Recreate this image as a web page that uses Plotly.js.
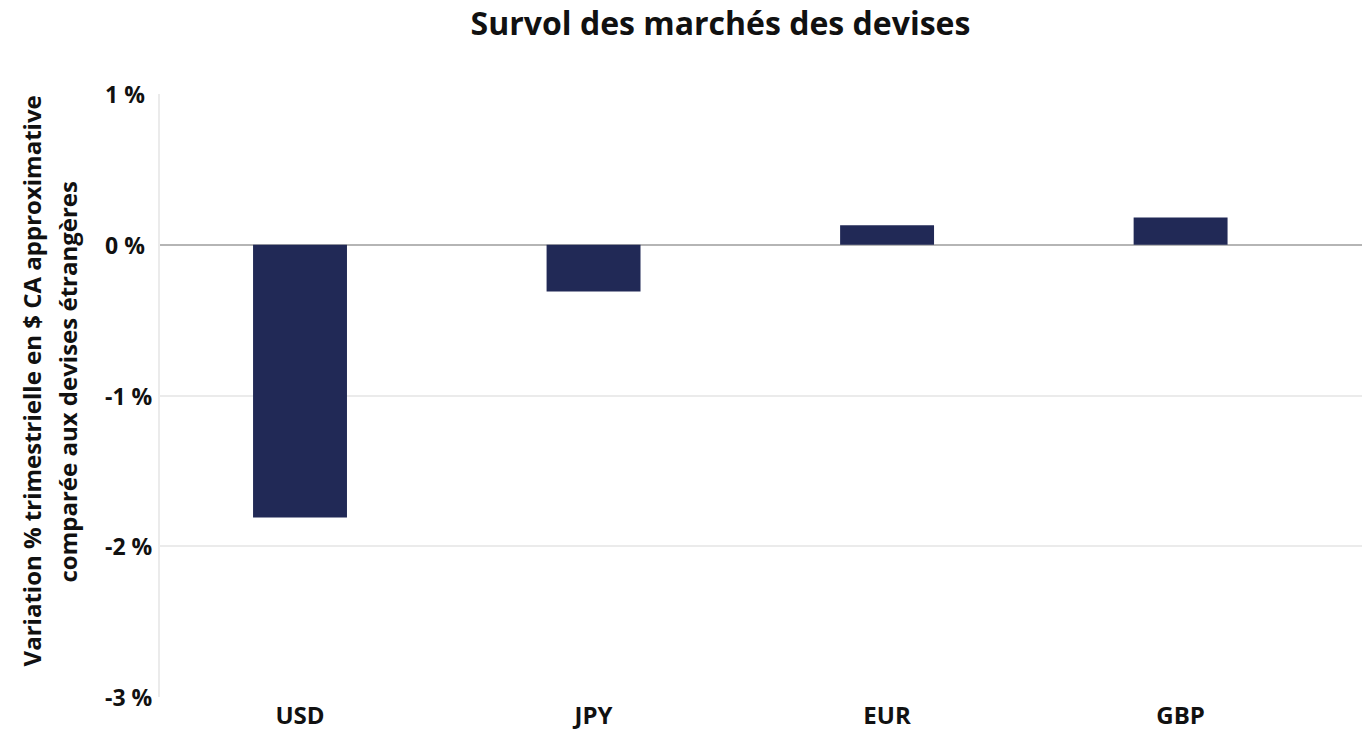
<!DOCTYPE html>
<html>
<head>
<meta charset="utf-8">
<script src="https://cdn.plot.ly/plotly-3.0.1.min.js"></script>
<style>html,body{margin:0;padding:0;background:#fff;}#chart{width:1362px;height:730px;}</style>
</head>
<body>
<div id="chart"></div>
<script>
const categories = ["USD", "JPY", "EUR", "GBP"];
const values = [-1.81, -0.31, 0.13, 0.18];
const yTickVals = [1, 0, -1, -2, -3];
const yTickText = ["1 %", "0 %", "-1 %", "-2 %", "-3 %"];
const chartTitle = "Survol des marchés des devises";
const yTitleLines = ["Variation % trimestrielle en $ CA approximative", "comparée aux devises étrangères"];

const FONT = "'Open Sans', sans-serif";
const INK = "#111";
const trace = {
  type: "bar",
  x: categories.map((c, i) => i),
  y: values,
  width: 0.32,
  marker: {color: "#212956"},
  hoverinfo: "skip"
};
const tickAnnotations = yTickVals.map((v, i) => ({
  text: yTickText[i], xref: "paper", yref: "y", x: -0.0474, y: v,
  xanchor: "left", yanchor: "middle", showarrow: false,
  font: {family: FONT, size: 23, weight: 700, color: INK}
}));
const layout = {
  width: 1362, height: 730,
  margin: {l: 160, r: 0, t: 94, b: 33},
  paper_bgcolor: "#fff", plot_bgcolor: "#fff",
  font: {family: FONT, color: INK},
  showlegend: false,
  title: {text: chartTitle, x: 0.529, xref: "container", xanchor: "center", y: 0.968, yref: "container", yanchor: "middle",
          font: {family: FONT, size: 32, weight: 700, color: INK}},
  xaxis: {
    range: [-0.477, 3.618],
    tickvals: categories.map((c, i) => i),
    ticktext: categories,
    showgrid: false, zeroline: false, showline: false, ticks: "",
    tickfont: {family: FONT, size: 24, weight: 700, color: INK},
    ticklabelstandoff: 2
  },
  yaxis: {
    range: [-3, 1],
    tickvals: yTickVals,
    showticklabels: false,
    showgrid: true, gridcolor: "#ebebeb", gridwidth: 2,
    zeroline: true, zerolinecolor: "#b5b5b5", zerolinewidth: 2,
    showline: true, linecolor: "#ebebeb", linewidth: 2,
    ticks: ""
  },
  annotations: [
    {text: yTitleLines[0], xref: "paper", yref: "paper", x: -0.107, y: 0.524, xanchor: "center", yanchor: "middle",
     textangle: -90, showarrow: false, font: {family: FONT, size: 24, weight: 700, color: INK}},
    {text: yTitleLines[1], xref: "paper", yref: "paper", x: -0.077, y: 0.524, xanchor: "center", yanchor: "middle",
     textangle: -90, showarrow: false, font: {family: FONT, size: 24, weight: 700, color: INK}}
  ].concat(tickAnnotations)
};
Plotly.newPlot("chart", [trace], layout, {displayModeBar: false, staticPlot: true});
</script>
</body>
</html>
